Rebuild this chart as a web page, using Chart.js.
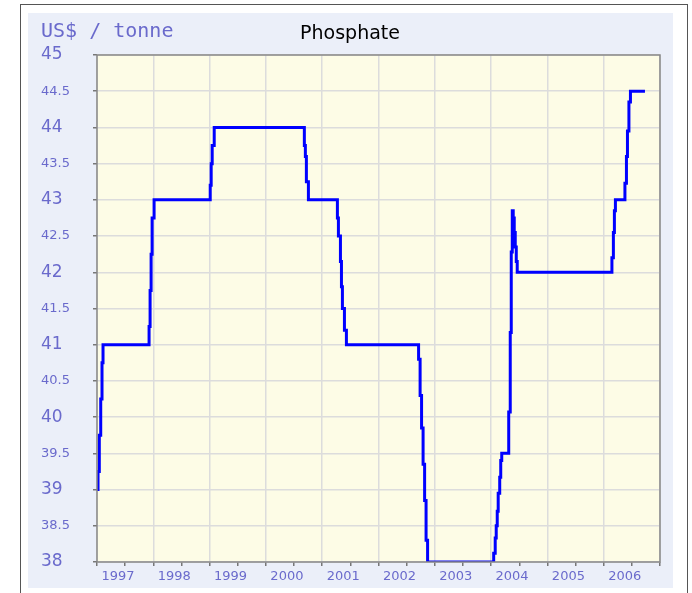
<!DOCTYPE html>
<html>
<head>
<meta charset="utf-8">
<script src="https://cdn.jsdelivr.net/npm/chart.js@4.4.1/dist/chart.umd.min.js"></script>
<style>
  html, body { margin: 0; padding: 0; background: #ffffff; }
  #wrap { width: 692px; height: 593px; }
</style>
</head>
<body>
<div id="wrap"><canvas id="phosphate"></canvas></div>
<script>
// dates in decimal years, price in US$ / tonne (value becomes y at time x)
const dates = [
  1997.000, 1997.018, 1997.041, 1997.066, 1997.089, 1997.107,
  1997.925, 1997.943, 1997.961, 1997.979, 1998.014,
  1999.011, 1999.028, 1999.046, 1999.082,
  2000.683, 2000.701, 2000.719, 2000.755,
  2001.270, 2001.288, 2001.324, 2001.342, 2001.359, 2001.395, 2001.430,
  2002.712, 2002.739, 2002.765, 2002.792, 2002.819, 2002.845, 2002.872,
  2004.046, 2004.073, 2004.091, 2004.109, 2004.126, 2004.153, 2004.171, 2004.189,
  2004.313, 2004.340, 2004.358, 2004.376, 2004.393, 2004.411, 2004.429, 2004.447, 2004.464,
  2006.146, 2006.172, 2006.190, 2006.208,
  2006.377, 2006.404, 2006.422, 2006.448, 2006.475, 2006.733
];
const prices = [
  39.0, 39.25, 39.75, 40.25, 40.75, 41.0,
  41.25, 41.75, 42.25, 42.75, 43.0,
  43.2, 43.5, 43.75, 44.0,
  43.75, 43.6, 43.25, 43.0,
  42.75, 42.5, 42.15, 41.8, 41.5, 41.2, 41.0,
  40.8, 40.3, 39.85, 39.35, 38.85, 38.3, 38.0,
  38.12, 38.33, 38.5, 38.7, 38.95, 39.17, 39.4, 39.5,
  40.07, 41.17, 42.28, 42.85, 42.75, 42.55, 42.35, 42.15, 42.0,
  42.2, 42.55, 42.85, 43.0,
  43.23, 43.6, 43.95, 44.35, 44.5, 44.5
];
const yearTicks = [1997, 1998, 1999, 2000, 2001, 2002, 2003, 2004, 2005, 2006];
const chartTitle = "Phosphate";
const unitLabel = "US$ / tonne";

const labelBlue = "#6a6acc";

const points = dates.map((d, i) => ({ x: d, y: prices[i] }));

// panel, frame, plot background and header texts
const backdrop = {
  id: "backdrop",
  beforeDraw(chart) {
    const ctx = chart.ctx;
    const a = chart.chartArea;
    ctx.save();
    ctx.fillStyle = "#ffffff";
    ctx.fillRect(0, 0, chart.width, chart.height);
    ctx.strokeStyle = "#555555";
    ctx.lineWidth = 1;
    ctx.strokeRect(20.5, 4.5, 667, 600);
    ctx.fillStyle = "#ebeff9";
    ctx.fillRect(28, 13, 645, 575);
    ctx.fillStyle = "#fdfce6";
    ctx.fillRect(a.left, a.top, a.right - a.left, a.bottom - a.top);
    ctx.textBaseline = "alphabetic";
    ctx.fillStyle = labelBlue;
    ctx.font = "20px 'DejaVu Sans Mono'";
    ctx.textAlign = "left";
    ctx.fillText(unitLabel, 41, 37);
    ctx.fillStyle = "#000000";
    ctx.font = "19px 'DejaVu Sans'";
    ctx.textAlign = "center";
    ctx.fillText(chartTitle, 350, 39);
    ctx.restore();
  },
  afterDraw(chart) {
    const ctx = chart.ctx;
    const a = chart.chartArea;
    ctx.save();
    ctx.strokeStyle = "#888888";
    ctx.lineWidth = 1.5;
    ctx.strokeRect(a.left, a.top, a.right - a.left, a.bottom - a.top);
    ctx.restore();
  }
};

new Chart(document.getElementById("phosphate"), {
  type: "line",
  data: {
    datasets: [
      {
        label: chartTitle,
        data: points,
        borderColor: "#0000ff",
        borderWidth: 3,
        pointRadius: 0,
        stepped: true,
        fill: false,
      },
    ],
  },
  options: {
    responsive: true,
    maintainAspectRatio: false,
    animation: false,
    layout: {
      padding: { left: 41, right: 32, top: 55, bottom: 0 },
    },
    plugins: {
      legend: { display: false },
      tooltip: { enabled: false },
    },
    scales: {
      x: {
        type: "linear",
        min: 1997,
        max: 2007,
        afterBuildTicks(scale) {
          const t = [];
          for (let v = 1997; v <= 2007; v += 0.5) t.push({ value: v });
          scale.ticks = t;
        },
        afterFit(scale) {
          scale.height = 31;
        },
        grid: {
          color: (c) => (Number.isInteger(c.tick.value) ? "#dcdcdc" : "rgba(0,0,0,0)"),
          tickColor: "#777777",
          tickLength: 4,
          lineWidth: 1.5,
        },
        border: { display: false },
        ticks: {
          autoSkip: false,
          maxRotation: 0,
          labelOffset: 21,
          padding: 3,
          color: labelBlue,
          font: { family: "DejaVu Sans", size: 13 },
          callback: (v) => (yearTicks.includes(v) ? String(v) : ""),
        },
      },
      y: {
        min: 38,
        max: 45,
        afterFit(scale) {
          scale.width = 56;
        },
        grid: {
          color: "#dcdcdc",
          tickColor: "#777777",
          tickLength: 4,
          lineWidth: 1.5,
        },
        border: { display: false },
        ticks: {
          stepSize: 0.5,
          crossAlign: "far",
          color: labelBlue,
          callback: (v) => String(v),
          font: (c) => ({
            family: "DejaVu Sans",
            size: Number.isInteger(c.tick && c.tick.value) ? 17 : 13,
          }),
        },
      },
    },
  },
  plugins: [backdrop],
});
</script>
</body>
</html>
